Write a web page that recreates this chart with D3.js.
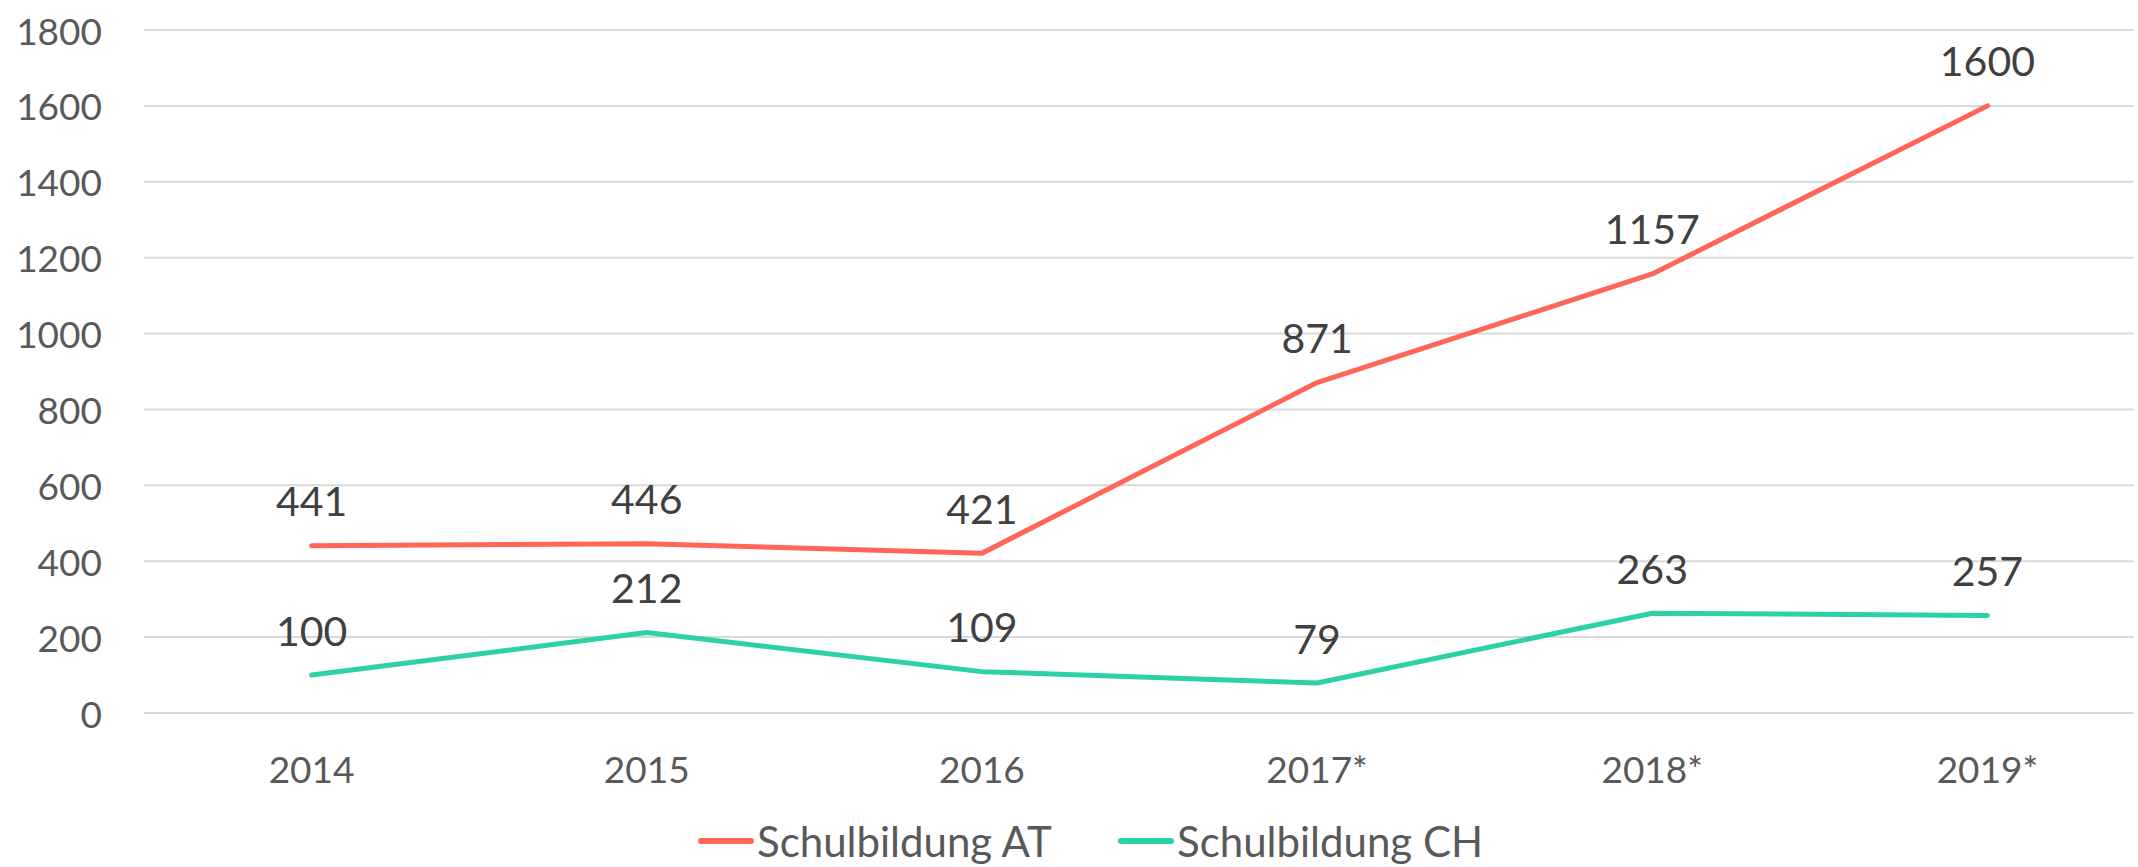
<!DOCTYPE html>
<html>
<head>
<meta charset="utf-8">
<script src="https://cdn.jsdelivr.net/npm/d3@7"></script>
<style>
  html, body { margin: 0; padding: 0; background: #fff; }
  svg { display: block; font-family: Lato, "Open Sans", sans-serif; }
</style>
</head>
<body>
<div id="chart"></div>
<script>
const categories = ["2014", "2015", "2016", "2017*", "2018*", "2019*"];
const schulbildungAT = [441, 446, 421, 871, 1157, 1600];
const schulbildungCH = [100, 212, 109, 79, 263, 257];
const yTicks = [0, 200, 400, 600, 800, 1000, 1200, 1400, 1600, 1800];

const series = [
  { name: "Schulbildung AT", values: schulbildungAT, color: "#FF6657" },
  { name: "Schulbildung CH", values: schulbildungCH, color: "#2DD1A6" }
];

const W = 2138, H = 867;
const plotLeft = 144, plotRight = 2138, plotTop = 30, plotBottom = 713;

const svg = d3.select("#chart").append("svg")
  .attr("width", W)
  .attr("height", H);

// the band is wider than the window, the chart is cut on the right like the original
const x = d3.scaleBand()
  .domain(categories)
  .range([plotLeft, 2155]);

const y = d3.scaleLinear()
  .domain([0, 1800])
  .range([plotBottom, plotTop]);

// gridlines
svg.append("g")
  .selectAll("line")
  .data(yTicks)
  .join("line")
  .attr("x1", plotLeft)
  .attr("x2", plotRight - 4)
  .attr("y1", d => y(d))
  .attr("y2", d => y(d))
  .attr("stroke", "#D9D9D9")
  .attr("stroke-width", 2);

// y axis labels
svg.append("g")
  .selectAll("text")
  .data(yTicks)
  .join("text")
  .attr("x", 102)
  .attr("y", d => y(d))
  .attr("text-anchor", "end")
  .attr("dominant-baseline", "central")
  .attr("fill", "#595959")
  .attr("font-size", 37)
  .text(d => d);

// x axis labels
svg.append("g")
  .selectAll("text")
  .data(categories)
  .join("text")
  .attr("x", d => x(d) + x.bandwidth() / 2)
  .attr("y", 768)
  .attr("text-anchor", "middle")
  .attr("dominant-baseline", "central")
  .attr("fill", "#595959")
  .attr("font-size", 37)
  .text(d => d);

const line = d3.line()
  .x((d, i) => x(categories[i]) + x.bandwidth() / 2)
  .y(d => y(d));

series.forEach(s => {
  svg.append("path")
    .datum(s.values)
    .attr("fill", "none")
    .attr("stroke", s.color)
    .attr("stroke-width", 5)
    .attr("stroke-linecap", "round")
    .attr("stroke-linejoin", "round")
    .attr("d", line);

  svg.append("g")
    .selectAll("text")
    .data(s.values)
    .join("text")
    .attr("x", (d, i) => x(categories[i]) + x.bandwidth() / 2)
    .attr("y", d => y(d) - 45)
    .attr("text-anchor", "middle")
    .attr("dominant-baseline", "central")
    .attr("fill", "#404040")
    .attr("font-size", 41)
    .text(d => d);
});

// legend
const legendX = [698, 1118];
const legend = svg.append("g");
series.forEach((s, i) => {
  legend.append("line")
    .attr("x1", legendX[i] + 3)
    .attr("x2", legendX[i] + 53)
    .attr("y1", 841)
    .attr("y2", 841)
    .attr("stroke", s.color)
    .attr("stroke-width", 6)
    .attr("stroke-linecap", "round");
  legend.append("text")
    .attr("x", legendX[i] + 59)
    .attr("y", 841)
    .attr("dominant-baseline", "central")
    .attr("fill", "#595959")
    .attr("font-size", 42)
    .text(s.name);
});
</script>
</body>
</html>
